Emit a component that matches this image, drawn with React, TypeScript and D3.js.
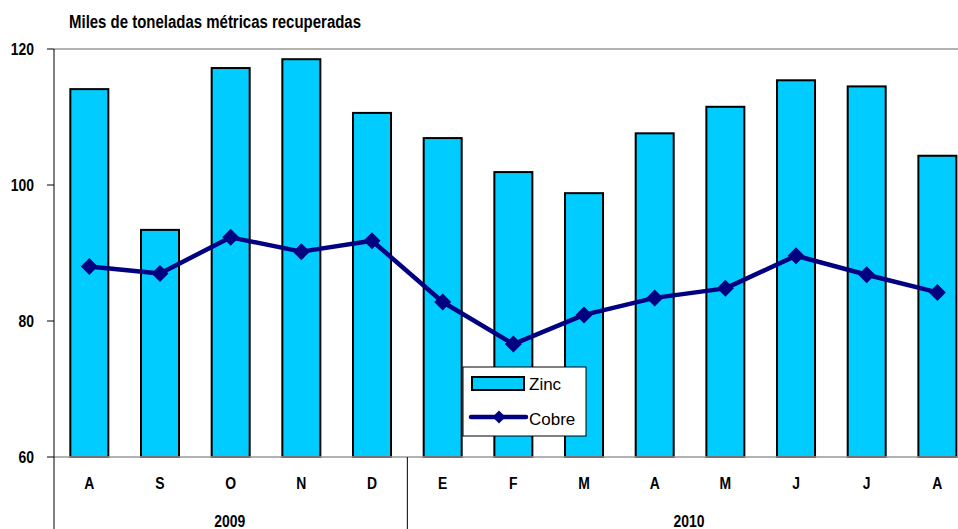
import React from "react";
import * as d3 from "d3";

const months = ["A", "S", "O", "N", "D", "E", "F", "M", "A", "M", "J", "J", "A"];
const years = ["2009", "2010"];
const yearSpans = [5, 8];
const zinc = [114.1, 93.4, 117.2, 118.5, 110.6, 106.9, 101.9, 98.8, 107.6, 111.5, 115.4, 114.5, 104.3];
const cobre = [88.0, 87.0, 92.3, 90.2, 91.8, 82.8, 76.6, 80.9, 83.4, 84.8, 89.6, 86.8, 84.2];
const yTicks = [60, 80, 100, 120];
const title = "Miles de toneladas métricas recuperadas";

const W = 958, H = 529;
const left = 54, top = 49, bottom = 457;
const band = 70.67;
const FONT = "'Liberation Sans', Arial, sans-serif";

function NText({ x, y, anchor = "start", size = 17, children }: any) {
  return (
    <g transform={`translate(${x},${y}) scale(0.82,1)`}>
      <text x={0} y={0} textAnchor={anchor} fontFamily={FONT} fontWeight="bold" fontSize={size} fill="#000">{children}</text>
    </g>
  );
}

const diamond = (r: number) => `M0,${-r}L${r},0L0,${r}L${-r},0Z`;

export default function App() {
  const xc = (i: number) => left + band * (i + 0.5);
  const y = d3.scaleLinear().domain([60, 120]).range([bottom, top]);
  const bw = 38;
  const line = d3.line<number>().x((_, i) => xc(i)).y((d) => y(d));
  let acc = 0;
  const yearPos = yearSpans.map((s) => { const st = acc; acc += s; return { st, en: acc }; });
  return (
    <svg width={W} height={H} style={{ position: "absolute", left: 0, top: 0, background: "#fff" }}>
      <text x={69} y={27.5} fontFamily={FONT} fontWeight="bold" fontSize={17.5} textLength={292} lengthAdjust="spacingAndGlyphs" fill="#000">{title}</text>
      <line x1={left} x2={W} y1={y(120)} y2={y(120)} stroke="#999" strokeWidth={1.5} />
      {zinc.map((v, i) => (
        <rect key={i} x={xc(i) - bw / 2} y={y(v)} width={bw} height={bottom - y(v)} fill="#00CCFF" stroke="#000" strokeWidth={2} />
      ))}
      <line x1={left} x2={W} y1={bottom} y2={bottom} stroke="#999" strokeWidth={1.5} />
      <line x1={left} x2={left} y1={top} y2={H} stroke="#000" strokeWidth={1} />
      {yTicks.map((t) => (
        <g key={t}>
          <line x1={left - 7} x2={left} y1={y(t)} y2={y(t)} stroke="#000" />
          <NText x={34} y={y(t) + 6}  anchor="end">{t}</NText>
        </g>
      ))}
      {yearPos.slice(1).map((p, i) => (
        <line key={i} x1={left + band * p.st} x2={left + band * p.st} y1={bottom} y2={H} stroke="#000" />
      ))}
      {months.map((m, i) => (
        <NText key={i} x={xc(i)} y={489} anchor="middle">{m}</NText>
      ))}
      {years.map((yr, i) => (
        <NText key={yr} x={left + band * (yearPos[i].st + yearPos[i].en) / 2 - 1} y={527} anchor="middle">{yr}</NText>
      ))}
      <path d={line(cobre) || ""} fill="none" stroke="#000080" strokeWidth={4.5} strokeLinejoin="round" />
      {cobre.map((v, i) => (
        <path key={i} d={diamond(8.5)} transform={`translate(${xc(i)},${y(v)})`} fill="#000080" />
      ))}
      <g>
        <rect x={463} y={367} width={123} height={69} fill="#fff" stroke="#000" strokeWidth={1} />
        <rect x={472} y={377} width={52} height={13} fill="#00CCFF" stroke="#000" strokeWidth={2} />
        <text x={529} y={390} fontFamily={FONT} fontSize={17}>Zinc</text>
        <line x1={471} x2={526} y1={417} y2={417} stroke="#000080" strokeWidth={4.5} strokeLinecap="round" />
        <path d={diamond(6.5)} transform="translate(499,417)" fill="#000080" />
        <text x={529} y={425} fontFamily={FONT} fontSize={17}>Cobre</text>
      </g>
    </svg>
  );
}
